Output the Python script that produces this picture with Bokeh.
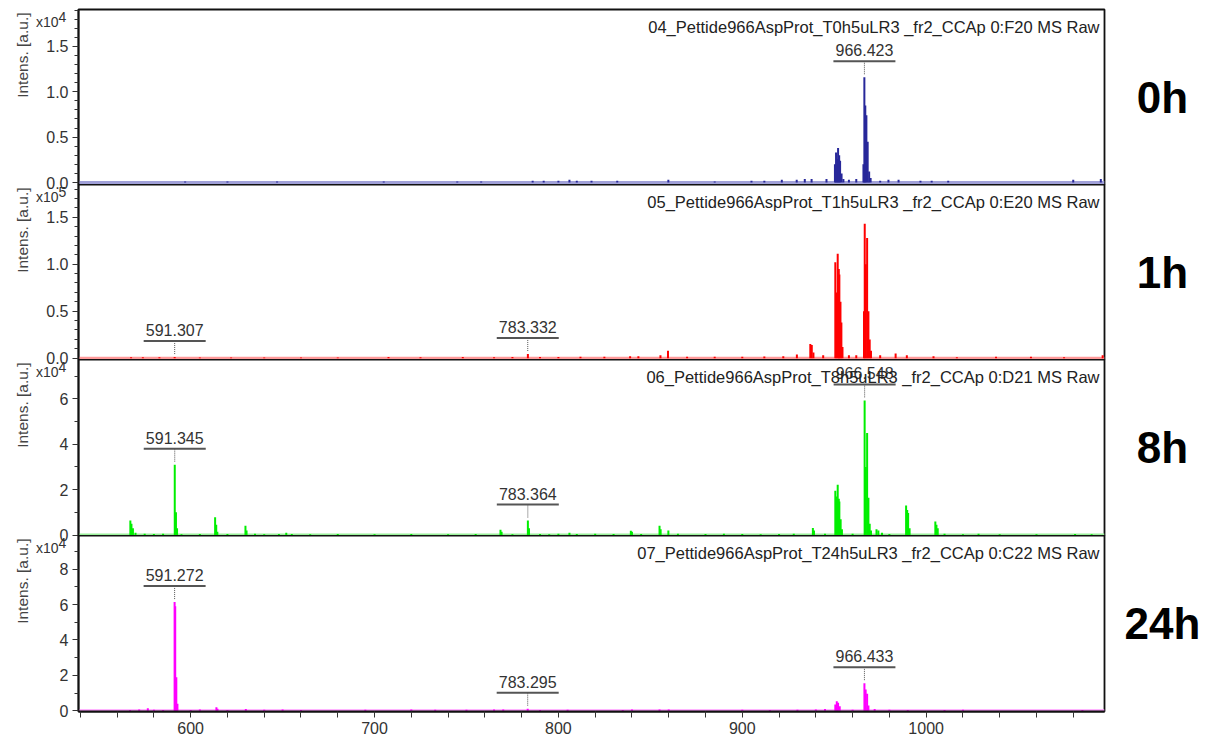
import math
from bokeh.plotting import figure
from bokeh.layouts import column
from bokeh.models import Range1d, FixedTicker, Label, Span, PrintfTickFormatter
from bokeh.embed import file_html
from bokeh.resources import INLINE

FONT = "Liberation Sans"

# ---------------- data ----------------
x_start, x_end = 539.0, 1097.0
x_major_ticks = [600, 700, 800, 900, 1000]
x_minor_ticks = [540, 560, 580, 620, 640, 660, 680, 720, 740, 760, 780, 820, 840, 860, 880,
                 920, 940, 960, 980, 1020, 1040, 1060, 1080]

titles = [
    "04_Pettide966AspProt_T0h5uLR3 _fr2_CCAp 0:F20 MS Raw",
    "05_Pettide966AspProt_T1h5uLR3 _fr2_CCAp 0:E20 MS Raw",
    "06_Pettide966AspProt_T8h5uLR3 _fr2_CCAp 0:D21 MS Raw",
    "07_Pettide966AspProt_T24h5uLR3 _fr2_CCAp 0:C22 MS Raw",
]
time_labels = ["0h", "1h", "8h", "24h"]
exponents = ["4", "5", "4", "4"]
y_ranges = [(-0.022, 1.907), (-0.014, 1.848), (-0.02, 7.73), (-0.04, 9.90)]
y_major_ticks = [[0.0, 0.5, 1.0, 1.5], [0.0, 0.5, 1.0, 1.5], [0, 2, 4, 6], [0, 2, 4, 6, 8]]
y_minor_ticks = [
    [0.1, 0.2, 0.3, 0.4, 0.6, 0.7, 0.8, 0.9, 1.1, 1.2, 1.3, 1.4, 1.6, 1.7, 1.8, 1.9],
    [0.1, 0.2, 0.3, 0.4, 0.6, 0.7, 0.8, 0.9, 1.1, 1.2, 1.3, 1.4, 1.6, 1.7, 1.8],
    [1, 3, 5, 7],
    [1, 3, 5, 7, 9],
]
y_formats = ["%.1f", "%.1f", "%d", "%d"]
colors = ["#28289a", "#ff0000", "#00ee00", "#ff00ff"]
light_colors = ["#a0a0d8", "#ff9a9a", "#9af09a", "#ff9aff"]

# 0h spectrum (x1e4)
mz_0h = [597, 620, 647, 705, 745, 758, 786, 792, 800, 806, 810, 818, 832, 859.8, 885, 905, 912,
         921.5, 929.6, 934, 937.7, 945.8, 950.4, 951.0, 951.6, 952.1, 952.7, 953.2, 954.0, 955,
         958, 962, 965.9, 966.4, 966.9, 967.5, 968.2, 969.0, 969.8, 975, 979.5, 985, 996.9,
         1003, 1012, 1080, 1095]
int_0h = [0.01, 0.01, 0.01, 0.01, 0.01, 0.01, 0.02, 0.02, 0.02, 0.03, 0.02, 0.02, 0.02, 0.03,
          0.01, 0.02, 0.02, 0.03, 0.03, 0.04, 0.04, 0.04, 0.20, 0.33, 0.26, 0.38, 0.30, 0.24,
          0.10, 0.04, 0.03, 0.04, 0.20, 1.16, 0.85, 0.74, 0.45, 0.12, 0.05, 0.02, 0.03, 0.03,
          0.02, 0.02, 0.02, 0.03, 0.04]

# 1h spectrum (x1e5)
mz_1h = [567.6, 574, 583, 591.3, 605, 622, 640, 660, 680, 707.6, 725, 748, 765, 775, 783.4,
         790, 800, 812, 825, 839, 843.5, 855.5, 859.6, 870, 885, 900, 912, 922.3, 929.7, 937.0,
         937.8, 938.7, 944, 950.6, 951.2, 951.9, 952.5, 952.8, 953.4, 953.9, 954.5, 958, 962,
         966.2, 966.6, 967.2, 967.9, 968.6, 969.3, 970.0, 975, 983.4, 989.5, 1004, 1016.7,
         1038, 1057, 1075, 1096]
int_1h = [0.01, 0.01, 0.01, 0.012, 0.006, 0.006, 0.006, 0.007, 0.006, 0.012, 0.01, 0.012,
          0.01, 0.012, 0.045, 0.012, 0.012, 0.015, 0.015, 0.02, 0.02, 0.03, 0.08, 0.015, 0.015,
          0.015, 0.018, 0.02, 0.04, 0.15, 0.14, 0.06, 0.03, 1.02, 0.70, 1.11, 0.95, 0.89, 0.60,
          0.38, 0.12, 0.03, 0.03, 0.50, 1.43, 1.00, 1.28, 0.50, 0.20, 0.08, 0.03, 0.05, 0.03,
          0.02, 0.01, 0.015, 0.015, 0.01, 0.03]

# 8h spectrum (x1e4)
mz_8h = [567.2, 567.8, 568.6, 570, 575, 580, 585, 591.35, 592.0, 592.6, 595, 605, 613.3,
         613.9, 614.5, 620, 629.8, 630.4, 635, 640, 648, 652, 655, 665, 680, 700, 720, 740,
         755, 768.5, 769.1, 775, 783.4, 784.0, 790, 795, 800, 806, 810, 820, 830, 839.4, 840.0,
         845, 855.0, 855.6, 859.8, 865, 880, 890, 900, 910, 920, 928, 938.4, 939.0, 945, 950.6,
         951.2, 951.9, 952.5, 952.8, 953.5, 954.2, 960, 966.55, 967.2, 967.9, 968.6, 969.3,
         970, 973, 974, 976, 980, 989.1, 989.7, 990.2, 991, 1005.0, 1005.6, 1006.3, 1010, 1020,
         1028.5, 1040, 1060, 1081, 1090]
int_8h = [0.64, 0.50, 0.30, 0.10, 0.06, 0.05, 0.06, 3.10, 1.00, 0.30, 0.04, 0.05, 0.78, 0.45,
          0.15, 0.05, 0.41, 0.20, 0.06, 0.04, 0.05, 0.10, 0.05, 0.04, 0.05, 0.04, 0.05, 0.04,
          0.05, 0.23, 0.15, 0.04, 0.64, 0.30, 0.05, 0.04, 0.06, 0.10, 0.05, 0.06, 0.05, 0.19,
          0.15, 0.05, 0.41, 0.25, 0.20, 0.06, 0.05, 0.06, 0.05, 0.04, 0.05, 0.06, 0.31, 0.20,
          0.06, 1.95, 1.70, 2.22, 1.60, 1.48, 0.70, 0.25, 0.06, 5.93, 3.00, 4.49, 1.64, 0.50,
          0.20, 0.25, 0.20, 0.10, 0.05, 1.30, 1.10, 0.97, 0.30, 0.60, 0.45, 0.30, 0.06, 0.04,
          0.06, 0.03, 0.03, 0.05, 0.03]

# 24h spectrum (x1e4)
mz_24h = [567, 572, 576.7, 580, 585, 591.27, 591.6, 592.2, 592.8, 600, 605, 614.0, 614.6, 620,
          630, 640, 650, 660, 695, 720, 733, 750, 765, 770, 783.3, 790, 805, 835, 840, 855, 860,
          900, 915, 930, 940, 945, 950.6, 951.4, 952.1, 953.0, 960, 966.43, 967.1, 967.9, 968.6,
          972, 980, 990, 1010, 1020, 1085]
int_24h = [0.05, 0.08, 0.15, 0.06, 0.05, 6.14, 5.90, 1.90, 0.40, 0.05, 0.08, 0.20, 0.12, 0.05,
           0.10, 0.06, 0.08, 0.05, 0.06, 0.08, 0.06, 0.06, 0.08, 0.08, 0.12, 0.05, 0.06, 0.05,
           0.07, 0.08, 0.07, 0.06, 0.05, 0.06, 0.08, 0.10, 0.35, 0.54, 0.45, 0.25, 0.06, 1.56,
           1.20, 0.96, 0.30, 0.10, 0.06, 0.05, 0.05, 0.06, 0.05]

spectra_mz = [mz_0h, mz_1h, mz_8h, mz_24h]
spectra_int = [int_0h, int_1h, int_8h, int_24h]

# peak annotations: (m/z label position, label text, peak height)
peak_labels = [
    [(966.423, "966.423", 1.16)],
    [(591.307, "591.307", 0.012), (783.332, "783.332", 0.045)],
    [(591.345, "591.345", 3.10), (783.364, "783.364", 0.64), (966.548, "966.548", 5.93)],
    [(591.272, "591.272", 6.14), (783.295, "783.295", 0.12), (966.433, "966.433", 1.56)],
]

# ---------------- layout ----------------
W = 1215
BL, BR = 78, 111
FRAME_W = W - BL - BR
frame_heights = [175, 175, 176, 176]
OVER = 10

x_range = Range1d(x_start, x_end)
px_x = FRAME_W / (x_end - x_start)

figs = []
for k in range(4):
    lo, hi = y_ranges[k]
    fh = frame_heights[k]
    top = 9 if k == 0 else 0
    last = (k == 3)
    bottom = 31 if last else OVER
    height = top + fh + bottom
    p = figure(width=W, height=height, x_range=x_range, y_range=Range1d(lo, hi),
               output_backend="svg", toolbar_location=None,
               x_axis_location="below" if last else None,
               min_border_left=BL, min_border_right=BR,
               min_border_top=top, min_border_bottom=bottom)
    if k > 0:
        p.margin = (-OVER, 0, 0, 0)
    p.border_fill_alpha = 0
    p.background_fill_color = "white"
    p.outline_line_color = "#111111"
    p.outline_line_width = 1.8
    p.grid.visible = False
    px_y = fh / (hi - lo)

    ya = p.yaxis[0]
    ya.ticker = FixedTicker(ticks=y_major_ticks[k], minor_ticks=y_minor_ticks[k])
    ya.formatter = PrintfTickFormatter(format=y_formats[k])
    ya.major_label_text_font = FONT
    ya.major_label_text_font_size = "16px"
    ya.major_label_text_color = "#333333"
    ya.major_tick_out = 6
    ya.major_tick_in = 0
    ya.minor_tick_out = 4
    ya.minor_tick_in = 0
    ya.major_label_standoff = 4
    ya.axis_line_width = 1.8
    ya.axis_line_color = "#111111"
    ya.major_tick_line_color = "#333333"
    ya.minor_tick_line_color = "#333333"

    if last:
        xa = p.xaxis[0]
        xa.ticker = FixedTicker(ticks=x_major_ticks, minor_ticks=x_minor_ticks)
        xa.major_label_text_font = FONT
        xa.major_label_text_font_size = "16px"
        xa.major_label_text_color = "#333333"
        xa.major_tick_out = 6
        xa.major_tick_in = 0
        xa.minor_tick_out = 6
        xa.minor_tick_in = 0
        xa.major_label_standoff = 4
        xa.axis_line_width = 1.8
        xa.axis_line_color = "#111111"
        xa.major_tick_line_color = "#333333"
        xa.minor_tick_line_color = "#333333"

    # baseline band
    p.add_layout(Span(location=0, dimension="width", line_color=light_colors[k],
                      line_width=3, level="underlay"))
    # spectrum sticks
    mz = spectra_mz[k]
    it = spectra_int[k]
    p.segment(x0=mz, y0=[0] * len(mz), x1=mz, y1=it, line_color=colors[k], line_width=2)

    # peak labels
    for (m, txt, h) in peak_labels[k]:
        y_line = h + 16 / px_y
        p.segment(x0=[m - 31 / px_x], y0=[y_line], x1=[m + 31 / px_x], y1=[y_line],
                  line_color="#555555", line_width=2)
        p.segment(x0=[m], y0=[h + 3 / px_y], x1=[m], y1=[y_line],
                  line_color="#555555", line_width=1, line_dash="1 1")
        p.add_layout(Label(x=m, y=y_line + 5 / px_y, text=txt, text_align="center",
                           text_baseline="bottom", text_font=FONT,
                           text_font_size="16px", text_color="#333333"))

    # title inside frame
    p.add_layout(Label(x=x_end - 5 / px_x, y=hi - 17.7 / px_y, text=titles[k],
                       text_align="right", text_baseline="middle", text_font=FONT,
                       text_font_size="16.5px", text_color="#222222"))
    # time label on the right
    p.add_layout(Label(x=x_end + 58 / px_x, y=(lo + hi) / 2, text=time_labels[k],
                       text_align="center", text_baseline="middle", text_font=FONT,
                       text_font_size="44px", text_font_style="bold", text_color="#000000"),
                 "right")
    # exponent (placed at top-left, hosted by the right side panel to keep left border free)
    p.add_layout(Label(x=x_start - 20 / px_x, y=hi - 12.5 / px_y, text="x10",
                       text_align="right", text_baseline="middle", text_font=FONT,
                       text_font_size="14px", text_color="#333333"), "right")
    p.add_layout(Label(x=x_start - 20 / px_x, y=hi - 7 / px_y, text=exponents[k],
                       text_align="left", text_baseline="middle", text_font=FONT,
                       text_font_size="14px", text_color="#333333"), "right")
    # y axis title
    p.add_layout(Label(x=x_start - 56 / px_x, y=hi - 3 / px_y, text="Intens. [a.u.]",
                       angle=math.pi / 2, text_align="right", text_baseline="middle",
                       text_font=FONT, text_font_size="15.5px", text_color="#444444"), "left")
    figs.append(p)

layout = column(*figs)
open("out.html", "w").write(file_html(layout, INLINE))
